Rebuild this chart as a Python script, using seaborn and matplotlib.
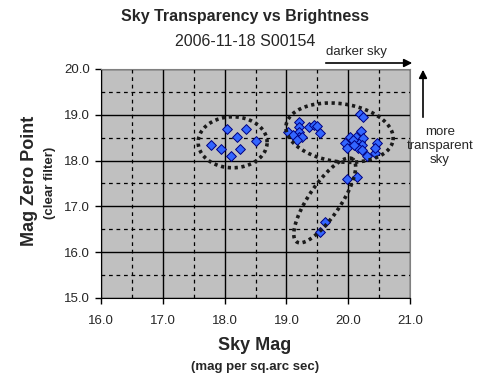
import numpy as np
import matplotlib
matplotlib.use("Agg")
import matplotlib.pyplot as plt
import seaborn as sns

# ── data ─────────────────────────────────────────────────────
sky_mag = [18.04, 18.35, 18.20, 18.51, 17.78, 17.94, 18.25, 18.10,
           19.20, 19.20, 19.20, 19.20, 19.26, 19.03, 19.10, 19.17,
           19.37, 19.44, 19.49, 19.54,
           20.19, 20.24, 20.20, 20.03, 19.95, 19.98, 20.13, 20.19,
           20.24, 20.22, 20.16, 20.23, 20.31, 20.43, 20.47, 20.43,
           20.08, 20.10,
           19.98, 20.15, 19.62, 19.54]
zero_point = [18.70, 18.70, 18.52, 18.43, 18.35, 18.25, 18.25, 18.09,
              18.85, 18.74, 18.63, 18.52, 18.51, 18.62, 18.55, 18.45,
              18.73, 18.78, 18.76, 18.60,
              19.01, 18.96, 18.65, 18.52, 18.39, 18.27, 18.52, 18.41,
              18.49, 18.34, 18.27, 18.23, 18.10, 18.16, 18.38, 18.27,
              18.45, 18.35,
              17.59, 17.65, 16.67, 16.45]

x_ticks = [16.0, 17.0, 18.0, 19.0, 20.0, 21.0]
y_ticks = [15.0, 16.0, 17.0, 18.0, 19.0, 20.0]

# cluster rings: centre (data), width/height in px, tilt in degrees
rings = [((18.13, 18.40), 69, 51, 0),
         ((19.86, 18.61), 108, 58, -8),
         ((19.62, 17.13), 100, 32, 56)]

# ── figure ───────────────────────────────────────────────────
sns.set_style("white")
plt.rcParams['font.family'] = ['Liberation Sans', 'DejaVu Sans']

fig = plt.figure(figsize=(4.9, 3.92), dpi=100)
ax = fig.add_axes([101 / 490, 94 / 392, 309 / 490, 229 / 392])
ax.set_facecolor('#C0C0C0')

ax.set_xlim(16, 21)
ax.set_ylim(15, 20)
ax.set_xticks(x_ticks)
ax.set_yticks(y_ticks)
ax.set_xticklabels([f"{v:.1f}" for v in x_ticks], fontsize=9.5)
ax.set_yticklabels([f"{v:.1f}" for v in y_ticks], fontsize=9.5)
ax.set_xticks(np.arange(16.5, 21, 1.0), minor=True)
ax.set_yticks(np.arange(15.5, 20, 1.0), minor=True)
ax.tick_params(which='major', direction='out', length=4, width=1,
               color='black', pad=4, bottom=True, left=True)
ax.tick_params(axis='x', which='major', pad=8)
ax.tick_params(which='minor', length=0)

ax.grid(which='major', color='black', linewidth=1, linestyle='-')
ax.grid(which='minor', color='black', linewidth=0.9, linestyle=(0, (3, 3)))
ax.set_axisbelow(True)

for side in ['top', 'right']:
    ax.spines[side].set_color('#808080')
for side in ['left', 'bottom']:
    ax.spines[side].set_color('black')

sns.scatterplot(x=sky_mag, y=zero_point, ax=ax, marker='D', s=25,
                color='#3366FF', edgecolor='#000080', linewidth=0.7,
                zorder=4, clip_on=False)

# dotted rings drawn in pixel space so tilt looks right
sx, sy = 309 / 5, 229 / 5
t = np.linspace(0, 2 * np.pi, 300)
for (cx, cy), w, h, ang in rings:
    a = np.deg2rad(ang)
    px = w / 2 * np.cos(t)
    py = h / 2 * np.sin(t)
    rx = px * np.cos(a) - py * np.sin(a)
    ry = px * np.sin(a) + py * np.cos(a)
    ax.plot(cx + rx / sx, cy + ry / sy, color='#1a1a1a', linewidth=2.6,
            linestyle=(0, (0.9, 1.0)), zorder=5)

# titles
fig.text(0.5, 1 - 17 / 392, "Sky Transparency vs Brightness",
         ha='center', va='center', fontsize=11.5, fontweight='bold')
fig.text(0.5, 1 - 41 / 392, "2006-11-18 S00154",
         ha='center', va='center', fontsize=11.5)

# axis labels
fig.text(255 / 490, 1 - 345 / 392, "Sky Mag", ha='center', va='center',
         fontsize=13, fontweight='bold')
fig.text(255 / 490, 1 - 367 / 392, "(mag per sq.arc sec)", ha='center',
         va='center', fontsize=9.5, fontweight='bold')
fig.text(29 / 490, 1 - 181 / 392, "Mag Zero Point", ha='center',
         va='center', rotation=90, fontsize=13, fontweight='bold')
fig.text(50 / 490, 1 - 183 / 392, "(clear filter)", ha='center',
         va='center', rotation=90, fontsize=9.5, fontweight='bold')

# direction hints
fig.text(356 / 490, 1 - 52 / 392, "darker sky", ha='center', va='center',
         fontsize=9.5)
fig.add_artist(matplotlib.patches.FancyArrowPatch(
    (323 / 490, 1 - 63 / 392), (415 / 490, 1 - 63 / 392),
    transform=fig.transFigure, arrowstyle='-|>', mutation_scale=12,
    color='black', linewidth=1.2))
fig.add_artist(matplotlib.patches.FancyArrowPatch(
    (423 / 490, 1 - 120 / 392), (423 / 490, 1 - 67 / 392),
    transform=fig.transFigure, arrowstyle='-|>', mutation_scale=12,
    color='black', linewidth=1.2))
fig.text(440 / 490, 1 - 146 / 392, "more\ntransparent\nsky", ha='center',
         va='center', fontsize=9.5, linespacing=1.2)

plt.savefig("out.png", dpi=100)
plt.close()
